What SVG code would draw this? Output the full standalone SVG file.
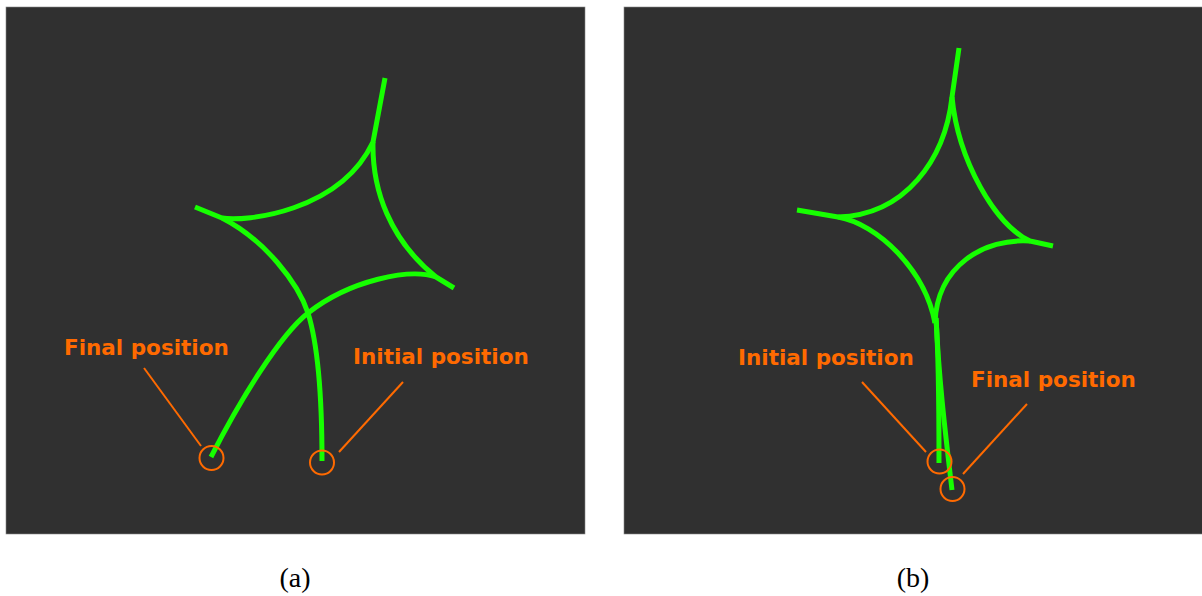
<svg xmlns="http://www.w3.org/2000/svg" width="1202" height="596" viewBox="0 0 1202 596">
<style>
.panel{fill:#303030;stroke:#888;stroke-width:0.6}
.traj{fill:none;stroke:#16ff00;stroke-width:5;stroke-linecap:butt;stroke-linejoin:round}
.mark{fill:none;stroke:#ff6a00;stroke-width:2}
.lead{stroke:#ff6a00;stroke-width:2}
.lbl{font-family:"DejaVu Sans",sans-serif;font-weight:bold;font-size:21.5px;fill:#ff6a00}
.cap{font-family:"Liberation Serif",serif;font-size:28px;fill:#000;text-anchor:middle}
</style>
<rect x="0" y="0" width="1202" height="596" fill="#fff"/>
<g id="panel-a">
<rect class="panel" x="6" y="7" width="579" height="527"/>
<g id="connectors-a">
<path class="traj" d="M322 461 C322 400 318 345 308 313 C298 283 265 240 222 218 L195 207"/>
<path class="traj" d="M222 218 C245 222 340 212 373 142 L385 78"/>
<path class="traj" d="M373 142 C372 190 390 240 436 277 L454 288"/>
<path class="traj" d="M436 277 C410 268 350 280 308 313 C280 335 240 400 211 457"/>
<line class="lead" x1="144" y1="368" x2="201" y2="446"/>
<line class="lead" x1="403" y1="382" x2="339" y2="452"/>
</g>
<g id="final-a"><circle class="mark" cx="211.5" cy="458" r="12"/><text class="lbl" x="64" y="355">Final position</text></g>
<g id="initial-a"><circle class="mark" cx="322" cy="462.5" r="12"/><text class="lbl" x="353" y="364">Initial position</text></g>
</g>
<g id="panel-b">
<rect class="panel" x="624" y="7" width="579" height="527"/>
<g id="connectors-b">
<path class="traj" d="M959 48 L952 97 C945 160 905 215 838 217 L797 210"/>
<path class="traj" d="M838 217 C878 224 925 270 935 323"/>
<path class="traj" d="M952 97 C958 160 995 225 1030 241 L1053 246"/>
<path class="traj" d="M1030 241 C985 238 937 265 935 323"/>
<path class="traj" d="M936 318 C939 360 939 420 939 463"/>
<path class="traj" d="M936 318 C939 380 945 430 952 490"/>
<line class="lead" x1="862" y1="382" x2="926" y2="452"/>
<line class="lead" x1="1027" y1="404" x2="963" y2="474"/>
</g>
<g id="initial-b"><circle class="mark" cx="939.5" cy="461.5" r="12"/><text class="lbl" x="738" y="365">Initial position</text></g>
<g id="final-b"><circle class="mark" cx="952.5" cy="489" r="12"/><text class="lbl" x="971" y="387">Final position</text></g>
</g>
<text class="cap" x="295" y="587">(a)</text>
<text class="cap" x="913" y="587">(b)</text>
</svg>
